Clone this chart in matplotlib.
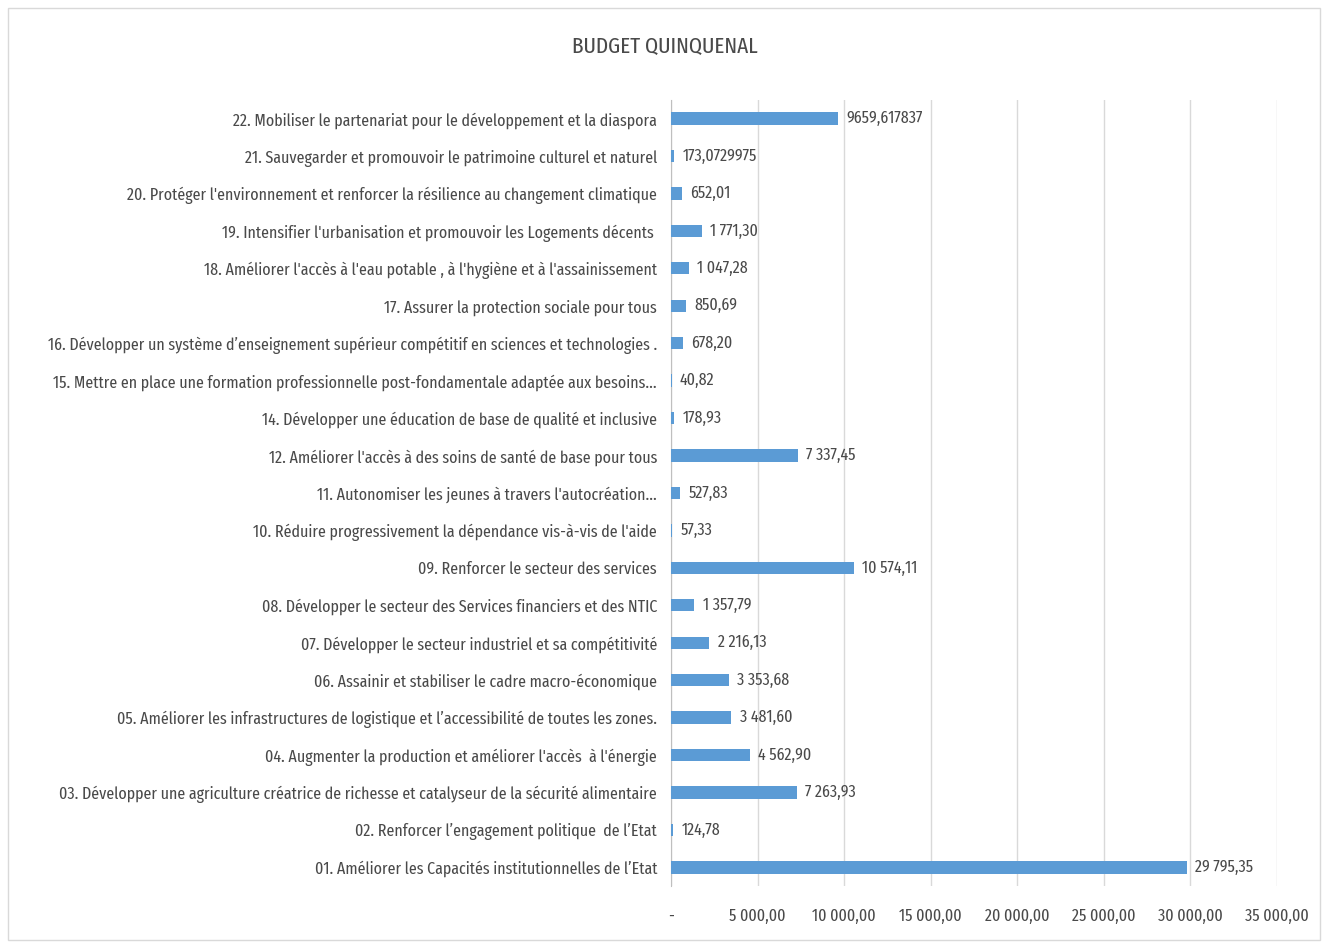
import matplotlib
matplotlib.use("Agg")
import matplotlib.pyplot as plt
from matplotlib.patches import Rectangle
from matplotlib.ticker import FixedLocator, FuncFormatter

plt.rcParams['font.family'] = ['Fira Sans Extra Condensed', 'DejaVu Sans']
plt.rcParams['font.weight'] = 'normal'

TEXT = "#4a4a4a"

title = "BUDGET QUINQUENAL"

categories = [
    "01. Améliorer les Capacités institutionnelles de l’Etat",
    "02. Renforcer l’engagement politique  de l’Etat",
    "03. Développer une agriculture créatrice de richesse et catalyseur de la sécurité alimentaire",
    "04. Augmenter la production et améliorer l'accès  à l'énergie",
    "05. Améliorer les infrastructures de logistique et l’accessibilité de toutes les zones.",
    "06. Assainir et stabiliser le cadre macro-économique",
    "07. Développer le secteur industriel et sa compétitivité",
    "08. Développer le secteur des Services financiers et des NTIC",
    "09. Renforcer le secteur des services",
    "10. Réduire progressivement la dépendance vis-à-vis de l'aide",
    "11. Autonomiser les jeunes à travers l'autocréation...",
    "12. Améliorer l'accès à des soins de santé de base pour tous",
    "14. Développer une éducation de base de qualité et inclusive",
    "15. Mettre en place une formation professionnelle post-fondamentale adaptée aux besoins...",
    "16. Développer un système d’enseignement supérieur compétitif en sciences et technologies .",
    "17. Assurer la protection sociale pour tous",
    "18. Améliorer l'accès à l'eau potable , à l'hygiène et à l'assainissement",
    "19. Intensifier l'urbanisation et promouvoir les Logements décents ",
    "20. Protéger l'environnement et renforcer la résilience au changement climatique",
    "21. Sauvegarder et promouvoir le patrimoine culturel et naturel",
    "22. Mobiliser le partenariat pour le développement et la diaspora",
]

budget = [
    29795.35, 124.78, 7263.93, 4562.90, 3481.60, 3353.68, 2216.13, 1357.79,
    10574.11, 57.33, 527.83, 7337.45, 178.93, 40.82, 678.20, 850.69,
    1047.28, 1771.30, 652.01, 173.0729975, 9659.617837,
]

# entries whose data label shows the unrounded cell value
raw_labels = {19, 20}

x_ticks = [0, 5000, 10000, 15000, 20000, 25000, 30000, 35000]


def fr_number(v):
    s = f"{v:,.2f}"
    return s.replace(",", " ").replace(".", ",")


def tick_fmt(v, _pos):
    return "-" if v == 0 else fr_number(v)


fig = plt.figure(figsize=(13.26, 9.42), dpi=100)
fig.patches.append(Rectangle((8 / 1326, 2 / 942), 1312 / 1326, 932 / 942,
                             transform=fig.transFigure, fill=False,
                             edgecolor="#d9d9d9", linewidth=1.0))

ax = fig.add_axes([0.506, 0.0594, 0.457, 0.8346])
ypos = list(range(len(categories)))
bars = ax.barh(ypos, budget, height=0.33, color="#5b9bd5", zorder=3)

ax.set_xlim(0, 35000)
ax.set_ylim(-0.5, len(categories) - 0.5)
ax.xaxis.set_major_locator(FixedLocator(x_ticks))
ax.xaxis.set_major_formatter(FuncFormatter(tick_fmt))
ax.grid(axis="x", color="#d9d9d9", linewidth=1.0, zorder=0)
ax.set_yticks(ypos)
ax.set_yticklabels(categories)

for side in ("top", "right", "bottom"):
    ax.spines[side].set_visible(False)
ax.spines["left"].set_color("#bfbfbf")
ax.tick_params(axis="both", length=0, labelcolor=TEXT, labelsize=12.5)
ax.tick_params(axis="y", pad=10)
ax.tick_params(axis="x", pad=16)

for i, (b, v) in enumerate(zip(bars, budget)):
    if i in raw_labels:
        txt = str(v).replace(".", ",")
    else:
        txt = fr_number(v)
    ax.annotate(txt, (v, b.get_y() + b.get_height() / 2),
                xytext=(6, 0), textcoords="offset points",
                va="center", ha="left", fontsize=12.5, color=TEXT)

fig.text(665 / 1326, 1 - 47 / 942, title, ha="center", va="center",
         fontsize=16.5, color=TEXT)

fig.savefig("out.png", dpi=100)
